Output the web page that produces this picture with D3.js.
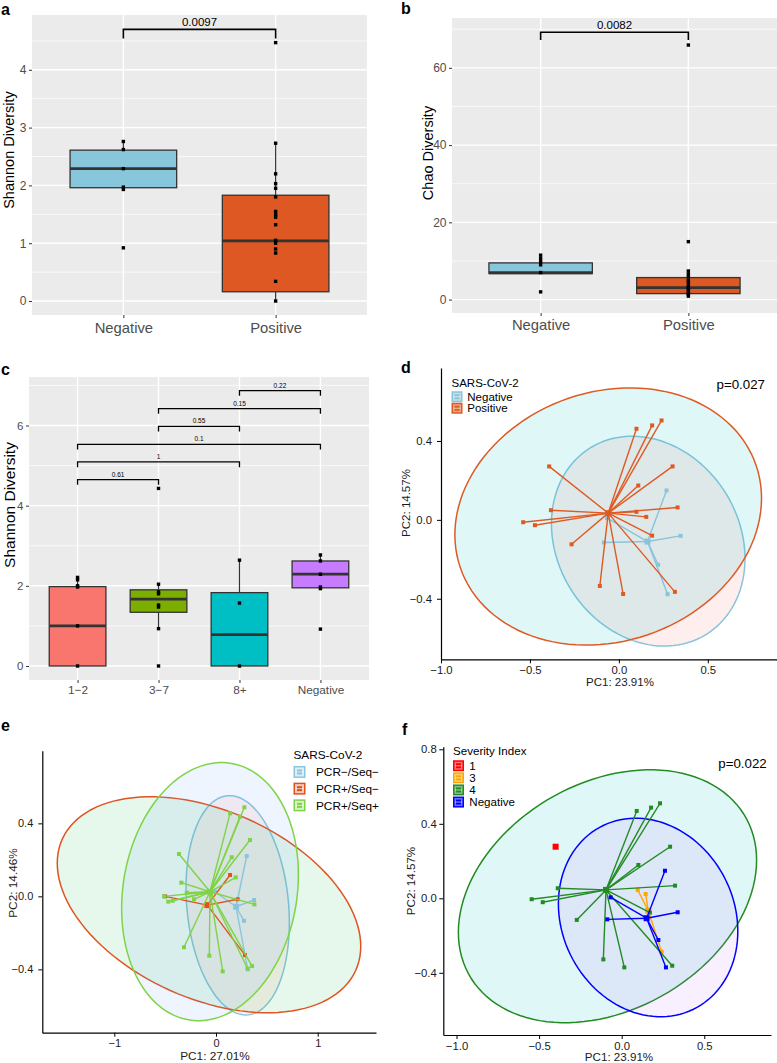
<!DOCTYPE html>
<html><head><meta charset="utf-8">
<script src="https://cdn.jsdelivr.net/npm/d3@7"></script>
<style>
body{margin:0;background:#fff}
svg{display:block}
text{font-family:"Liberation Sans",Arial,Helvetica,sans-serif}
</style>
</head><body>
<svg id="fig" width="777" height="1063"></svg>
<script>
// ================= DATA =================
// Panel a: Shannon diversity by SARS-CoV-2 status
const aCategories = ["Negative", "Positive"];
const aQ1 = [1.96, 0.16];
const aMedian = [2.29, 1.04];
const aQ3 = [2.61, 1.83];
const aWhiskerLow = [1.93, 0.0];
const aWhiskerHigh = [2.76, 2.73];
const aPointsNegative = [2.76, 2.62, 2.29, 1.97, 1.93, 0.92];
const aPointsPositive = [4.47, 2.73, 2.20, 2.03, 1.95, 1.80, 1.55, 1.50, 1.45, 1.32, 1.05, 1.00, 0.90, 0.83, 0.34, 0.0];
const aYTicks = [0, 1, 2, 3, 4];
const aYMinor = [0.5, 1.5, 2.5, 3.5, 4.5];
const aBracketFrom = ["Negative"], aBracketTo = ["Positive"], aBracketY = [4.70], aBracketTip = [0.16], aBracketLabels = ["0.0097"];

// Panel b: Chao diversity
const bCategories = ["Negative", "Positive"];
const bQ1 = [6.75, 1.55];
const bMedian = [6.95, 3.1];
const bQ3 = [9.5, 5.7];
const bWhiskerLow = [6.75, 0.9];
const bWhiskerHigh = [11.5, 7.4];
const bPointsNegative = [11.5, 10.6, 9.8, 9.0, 7.0, 2.0];
const bPointsPositive = [65.9, 15.0, 7.4, 6.6, 5.9, 5.0, 4.4, 3.7, 3.2, 2.7, 2.2, 1.7, 1.3, 0.9];
const bYTicks = [0, 20, 40, 60];
const bYMinor = [10, 30, 50, 70];
const bBracketFrom = ["Negative"], bBracketTo = ["Positive"], bBracketY = [69.2], bBracketTip = [2.0], bBracketLabels = ["0.0082"];

// Panel c: Shannon diversity by severity group
const cCategories = ["1\u22122", "3\u22127", "8+", "Negative"];
const cQ1 = [0.0, 1.34, 0.0, 1.95];
const cMedian = [1.0, 1.67, 0.78, 2.29];
const cQ3 = [1.98, 1.90, 1.83, 2.62];
const cWhiskerLow = [0.0, 0.93, 0.0, 1.93];
const cWhiskerHigh = [2.21, 2.04, 2.64, 2.77];
const cPoints12 = [2.21, 2.15, 2.0, 1.97, 1.0, 0.0];
const cPoints37 = [4.43, 2.04, 1.85, 1.80, 1.52, 1.47, 0.93, 0.0];
const cPoints8 = [2.64, 1.57, 0.0];
const cPointsNeg = [2.77, 2.62, 2.29, 1.97, 1.93, 0.92];
const cYTicks = [0, 2, 4, 6];
const cYMinor = [1, 3, 5, 7];
const cBracketFrom = ["8+", "3\u22127", "3\u22127", "1\u22122", "1\u22122", "1\u22122"];
const cBracketTo = ["Negative", "Negative", "8+", "Negative", "8+", "3\u22127"];
const cBracketY = [6.87, 6.42, 5.98, 5.53, 5.09, 4.65];
const cBracketTip = [0.13, 0.13, 0.13, 0.13, 0.13, 0.13];
const cBracketLabels = ["0.22", "0.15", "0.55", "0.1", "1", "0.61"];

// Panel d: PCoA, SARS-CoV-2 status
const dGroups = ["Negative", "Positive"];
const dNegX = [0.268, 0.347, -0.084, -0.066, 0.221, 0.274];
const dNegY = [0.149, -0.081, -0.115, 0.009, -0.228, -0.377];
const dPosX = [0.099, 0.187, 0.240, -0.392, 0.302, 0.109, -0.382, 0.330, -0.538, -0.472, 0.099, 0.154, 0.187, -0.266, -0.107, 0.024, 0.315];
const dPosY = [0.462, 0.479, 0.504, 0.271, 0.271, 0.174, 0.049, 0.063, -0.012, -0.027, 0.041, 0.015, -0.080, -0.124, -0.335, -0.376, -0.365];
const dCentroidX = [0.161, -0.060];
const dCentroidY = [-0.110, 0.034];
const dEllCx = [0.165, -0.060], dEllCy = [-0.108, 0.017];
const dEllSxx = [0.296, 0.743], dEllSyy = [0.283, 0.425], dEllSxy = [-0.048, 0.080];
const dXTicks = [-1.0, -0.5, 0.0, 0.5], dYTicks = [-0.4, 0.0, 0.4];

// Panel e: PCoA, PCR / sequencing status
const eGroups = ["PCR\u2212/Seq\u2212", "PCR+/Seq\u2212", "PCR+/Seq+"];
const eG1X = [0.302, 0.374, 0.275, 0.312, -0.010];
const eG1Y = [0.221, -0.020, -0.134, -0.400, 0.025];
const eG2X = [-0.500, 0.138, 0.213, 0.285];
const eG2Y = [0.000, 0.117, -0.016, -0.322];
const eG3X = [0.138, 0.279, 0.236, 0.334, -0.364, 0.154, 0.194, -0.341, -0.511, -0.469, -0.426, -0.288, -0.216, 0.377, -0.315, -0.066, 0.066, 0.310, 0.354];
const eG3Y = [0.455, 0.488, 0.437, 0.309, 0.232, 0.214, 0.104, 0.075, 0.000, -0.029, -0.024, 0.020, -0.016, -0.044, -0.279, -0.325, -0.411, -0.395, -0.382];
const eCentroidX = [0.197, -0.085, -0.059];
const eCentroidY = [-0.057, -0.048, 0.025];
const eEllCx = [0.213, -0.069, -0.059], eEllCy = [-0.049, -0.046, 0.026];
const eEllSxx = [0.258, 2.226, 0.755], eEllSyy = [0.361, 0.350, 0.500], eEllSxy = [-0.048, -0.340, 0.080];
const eXTicks = [-1, 0, 1], eYTicks = [-0.4, 0.0, 0.4];

// Panel f: PCoA, severity index
const fGroups = ["1", "3", "4", "Negative"];
const fG1X = [-0.400], fG1Y = [0.277];
const fG3X = [0.097, 0.145, 0.242], fG3Y = [0.045, 0.023, -0.287];
const fG4X = [0.091, 0.178, 0.232, 0.293, 0.101, -0.387, 0.323, -0.545, -0.478, -0.272, 0.171, -0.111, 0.016, 0.306];
const fG4Y = [0.469, 0.487, 0.510, 0.277, 0.179, 0.054, 0.068, -0.005, -0.021, -0.116, -0.077, -0.328, -0.371, -0.362];
const fGNX = [0.262, 0.339, -0.087, -0.067, 0.222, 0.268];
const fGNY = [0.148, -0.075, -0.113, 0.005, -0.224, -0.371];
const fCentroidX = [-0.400, 0.161, -0.095, 0.151];
const fCentroidY = [0.277, -0.067, 0.045, -0.107];
const fEllCx = [null, null, -0.086, 0.160], fEllCy = [null, null, 0.011, -0.103];
const fEllSxx = [null, null, 0.815, 0.295], fEllSyy = [null, null, 0.461, 0.284], fEllSxy = [null, null, 0.175, -0.040];
const fXTicks = [-1.0, -0.5, 0.0, 0.5], fYTicks = [-0.4, 0.0, 0.4, 0.8];

// ================= DRAWING =================
const svg = d3.select("#fig");
const FONT = '"Liberation Sans", Arial, Helvetica, sans-serif';

function styleAxisText(sel, size, color) {
  sel.selectAll("text").style("font-size", size + "px").style("font-family", FONT).attr("fill", color);
}

function boxPanel(o) {
  const g = svg.append("g");
  const x = d3.scalePoint().domain(o.categories).range([o.left, o.right]).padding(0.6);
  const y = d3.scaleLinear().domain(o.yDomain).range([o.bottom, o.top]);
  g.append("rect").attr("x", o.left).attr("y", o.top).attr("width", o.right - o.left)
    .attr("height", o.bottom - o.top).attr("fill", "#EBEBEB");
  g.selectAll("line.minor").data(o.yMinor).join("line").attr("class", "minor")
    .attr("x1", o.left).attr("x2", o.right).attr("y1", d => y(d)).attr("y2", d => y(d))
    .attr("stroke", "#fff").attr("stroke-width", 0.7);
  g.selectAll("line.major").data(o.yTicks).join("line").attr("class", "major")
    .attr("x1", o.left).attr("x2", o.right).attr("y1", d => y(d)).attr("y2", d => y(d))
    .attr("stroke", "#fff").attr("stroke-width", 1.4);
  g.selectAll("line.vmajor").data(o.categories).join("line").attr("class", "vmajor")
    .attr("x1", d => x(d)).attr("x2", d => x(d)).attr("y1", o.top).attr("y2", o.bottom)
    .attr("stroke", "#fff").attr("stroke-width", 1.4);

  const bw = x.step() * 0.7;
  o.categories.forEach((c, i) => {
    const cx = x(c);
    g.append("line").attr("x1", cx).attr("x2", cx).attr("y1", y(o.q3[i])).attr("y2", y(o.hi[i]))
      .attr("stroke", "#333").attr("stroke-width", 1.2);
    g.append("line").attr("x1", cx).attr("x2", cx).attr("y1", y(o.q1[i])).attr("y2", y(o.lo[i]))
      .attr("stroke", "#333").attr("stroke-width", 1.2);
    g.append("rect").attr("x", cx - bw / 2).attr("y", y(o.q3[i])).attr("width", bw)
      .attr("height", y(o.q1[i]) - y(o.q3[i])).attr("fill", o.fills[i])
      .attr("stroke", "#333").attr("stroke-width", 1.3);
    g.append("line").attr("x1", cx - bw / 2).attr("x2", cx + bw / 2)
      .attr("y1", y(o.med[i])).attr("y2", y(o.med[i])).attr("stroke", "#333").attr("stroke-width", 2.8);
    g.selectAll(null).data(o.points[i]).join("rect")
      .attr("x", cx - 1.7).attr("y", d => y(d) - 1.7).attr("width", 3.4).attr("height", 3.4).attr("fill", "#000");
  });

  const ya = g.append("g").attr("transform", `translate(${o.left},0)`)
    .call(d3.axisLeft(y).tickValues(o.yTicks).tickFormat(d3.format("d")).tickSize(3).tickPadding(2.5));
  ya.select(".domain").remove();
  ya.selectAll("line").attr("stroke", "#333");
  styleAxisText(ya, o.yTickSize, "#4D4D4D");

  const xa = g.append("g").attr("transform", `translate(0,${o.bottom})`)
    .call(d3.axisBottom(x).tickSize(3).tickPadding(o.xPad));
  xa.select(".domain").remove();
  xa.selectAll("line").attr("stroke", "#333");
  styleAxisText(xa, o.xTickSize, "#4D4D4D");

  // significance brackets
  o.bFrom.forEach((f, i) => {
    const x1 = x(f), x2 = x(o.bTo[i]), yy = y(o.bY[i]), yt = y(o.bY[i] - o.bTip[i]);
    g.append("path").attr("d", `M${x1},${yt}V${yy}H${x2}V${yt}`)
      .attr("fill", "none").attr("stroke", "#000").attr("stroke-width", o.bWidth);
    g.append("text").attr("x", (x1 + x2) / 2).attr("y", yy - o.bGap).attr("text-anchor", "middle")
      .style("font-size", o.bSize + "px").attr("fill", "#000").text(o.bLabels[i]);
  });

  g.append("text").attr("transform", `translate(${o.titleX},${o.titleY}) rotate(-90)`)
    .attr("text-anchor", "middle").style("font-size", o.titleSize + "px").attr("fill", "#000").text(o.yTitle);
}

function ellipsePath(cx, cy, sxx, syy, sxy, x, y) {
  const l11 = Math.sqrt(sxx), l21 = sxy / l11, l22 = Math.sqrt(syy - l21 * l21);
  const ts = d3.range(0, 121).map(i => i / 120 * 2 * Math.PI);
  return d3.line().x(t => x(cx + l11 * Math.cos(t))).y(t => y(cy + l21 * Math.cos(t) + l22 * Math.sin(t)))(ts) + "Z";
}

function pcoaPanel(o) {
  const g = svg.append("g");
  const x = d3.scaleLinear().domain(o.xDomain).range([o.left, o.right]);
  const y = d3.scaleLinear().domain(o.yDomain).range([o.bottom, o.top]);
  // ellipses
  o.groups.forEach((grp, i) => {
    if (o.ell.cx[i] === null) return;
    g.append("path").attr("d", ellipsePath(o.ell.cx[i], o.ell.cy[i], o.ell.sxx[i], o.ell.syy[i], o.ell.sxy[i], x, y))
      .attr("fill", o.fills[i]).attr("fill-opacity", o.fillOpacity)
      .attr("stroke", o.colors[i]).attr("stroke-width", 1.5);
  });
  // spiders
  o.groups.forEach((grp, i) => {
    const cxp = x(o.cenX[i]), cyp = y(o.cenY[i]);
    g.selectAll(null).data(d3.range(o.xs[i].length)).join("line")
      .attr("x1", cxp).attr("y1", cyp).attr("x2", k => x(o.xs[i][k])).attr("y2", k => y(o.ys[i][k]))
      .attr("stroke", o.colors[i]).attr("stroke-width", 1.4);
    g.selectAll(null).data(d3.range(o.xs[i].length)).join("rect")
      .attr("x", k => x(o.xs[i][k]) - 2).attr("y", k => y(o.ys[i][k]) - 2).attr("width", 4).attr("height", 4)
      .attr("fill", o.colors[i]);
    g.append("rect").attr("x", cxp - 3).attr("y", cyp - 3).attr("width", 6).attr("height", 6).attr("fill", o.colors[i]);
  });
  // axes
  const xa = g.append("g").attr("transform", `translate(0,${o.bottom})`)
    .call(d3.axisBottom(x).tickValues(o.xTicks).tickFormat(o.xFmt).tickSize(4).tickSizeOuter(0).tickPadding(o.xPad));
  xa.select(".domain").attr("stroke", "#000").attr("stroke-width", 1.2);
  xa.selectAll(".tick line").attr("stroke", "#000");
  styleAxisText(xa, o.tickSize, "#1a1a1a");
  const ya = g.append("g").attr("transform", `translate(${o.left},0)`)
    .call(d3.axisLeft(y).tickValues(o.yTicks).tickFormat(o.yFmt).tickSize(4).tickSizeOuter(0).tickPadding(o.yPad));
  ya.select(".domain").attr("stroke", "#000").attr("stroke-width", 1.2);
  ya.selectAll(".tick line").attr("stroke", "#000");
  styleAxisText(ya, o.tickSize, "#1a1a1a");
  // titles
  g.append("text").attr("x", o.xTitlePos[0]).attr("y", o.xTitlePos[1]).attr("text-anchor", "middle")
    .style("font-size", o.titleSize + "px").attr("fill", "#1a1a1a").text(o.xTitle);
  g.append("text").attr("transform", `translate(${o.yTitlePos[0]},${o.yTitlePos[1]}) rotate(-90)`)
    .attr("text-anchor", "middle").style("font-size", o.titleSize + "px").attr("fill", "#1a1a1a").text(o.yTitle);
  // legend
  const L = o.legend;
  g.append("text").attr("x", L.x).attr("y", L.titleY).style("font-size", L.size + "px").attr("fill", "#000").text(L.title);
  o.groups.forEach((grp, i) => {
    const ky = L.firstY + i * L.step;
    g.append("rect").attr("x", L.x + 0.75).attr("y", ky).attr("width", L.key).attr("height", L.key)
      .attr("fill", o.colors[i]).attr("fill-opacity", L.keyOpacity)
      .attr("stroke", o.colors[i]).attr("stroke-width", 1.5);
    g.append("rect").attr("x", L.x + 0.75 + L.key / 2 - 2.5).attr("y", ky + L.key / 2 - 2.5)
      .attr("width", 5).attr("height", 5).attr("fill", o.colors[i]);
    g.append("line").attr("x1", L.x + 2).attr("x2", L.x + L.key - 0.5).attr("y1", ky + L.key / 2).attr("y2", ky + L.key / 2)
      .attr("stroke", "#fff").attr("stroke-width", 0.8).attr("stroke-opacity", 0.8);
    g.append("text").attr("x", L.labelX).attr("y", ky + L.key / 2 + L.size * 0.36)
      .style("font-size", L.size + "px").attr("fill", "#000").text(grp);
  });
  if (o.pLabel) {
    g.append("text").attr("x", o.pPos[0]).attr("y", o.pPos[1]).attr("text-anchor", "end")
      .style("font-size", "13.3px").attr("fill", "#000").text(o.pLabel);
  }
}

// panel letters
const panelLetters = ["a", "b", "c", "d", "e", "f"];
const letterPos = [[1, 15], [401, 14], [1, 375], [401, 373], [1, 731], [402, 735]];
svg.selectAll("text.letter").data(panelLetters).join("text").attr("class", "letter")
  .attr("x", (d, i) => letterPos[i][0]).attr("y", (d, i) => letterPos[i][1])
  .style("font-size", "16px").style("font-weight", "bold").attr("fill", "#000").text(d => d);

// ---- a ----
boxPanel({
  categories: aCategories, q1: aQ1, med: aMedian, q3: aQ3, lo: aWhiskerLow, hi: aWhiskerHigh,
  points: [aPointsNegative, aPointsPositive], fills: ["#88C6DB", "#DD5822"],
  left: 32, right: 367, top: 15, bottom: 315, yDomain: [-0.242, 4.948],
  yTicks: aYTicks, yMinor: aYMinor, yTickSize: 12, xTickSize: 14.8, xPad: 4.5,
  bFrom: aBracketFrom, bTo: aBracketTo, bY: aBracketY, bTip: aBracketTip, bLabels: aBracketLabels,
  bSize: 11.5, bGap: 3.5, bWidth: 1.6,
  yTitle: "Shannon Diversity", titleX: 14, titleY: 150, titleSize: 14.5
});

// ---- b ----
boxPanel({
  categories: bCategories, q1: bQ1, med: bMedian, q3: bQ3, lo: bWhiskerLow, hi: bWhiskerHigh,
  points: [bPointsNegative, bPointsPositive], fills: ["#88C6DB", "#DD5822"],
  left: 452, right: 777, top: 18, bottom: 313, yDomain: [-3.47, 72.9],
  yTicks: bYTicks, yMinor: bYMinor, yTickSize: 12, xTickSize: 14.8, xPad: 3.5,
  bFrom: bBracketFrom, bTo: bBracketTo, bY: bBracketY, bTip: bBracketTip, bLabels: bBracketLabels,
  bSize: 11.5, bGap: 3.5, bWidth: 1.6,
  yTitle: "Chao Diversity", titleX: 433, titleY: 153, titleSize: 14.5
});

// ---- c ----
boxPanel({
  categories: cCategories, q1: cQ1, med: cMedian, q3: cQ3, lo: cWhiskerLow, hi: cWhiskerHigh,
  points: [cPoints12, cPoints37, cPoints8, cPointsNeg], fills: ["#F8766D", "#7CAE00", "#00BFC4", "#C77CFF"],
  left: 29, right: 369, top: 377, bottom: 680, yDomain: [-0.35, 7.21],
  yTicks: cYTicks, yMinor: cYMinor, yTickSize: 11.5, xTickSize: 11.8, xPad: 3,
  bFrom: cBracketFrom, bTo: cBracketTo, bY: cBracketY, bTip: cBracketTip, bLabels: cBracketLabels,
  bSize: 6.5, bGap: 3, bWidth: 1.3,
  yTitle: "Shannon Diversity", titleX: 15, titleY: 505, titleSize: 15.5
});

const f1 = d3.format(".1f"), f0 = d3.format("d");

// ---- d ----
pcoaPanel({
  groups: dGroups, colors: ["#89C4DB", "#DF5A23"], fills: ["#F8766D", "#00BFC4"], fillOpacity: 0.12,
  xs: [dNegX, dPosX], ys: [dNegY, dPosY], cenX: dCentroidX, cenY: dCentroidY,
  ell: { cx: dEllCx, cy: dEllCy, sxx: dEllSxx, syy: dEllSyy, sxy: dEllSxy },
  left: 441, right: 777, top: 368, bottom: 659.3, xDomain: [-1.0, 0.889], yDomain: [-0.707, 0.770],
  xTicks: dXTicks, yTicks: dYTicks, xFmt: f1, yFmt: f1, tickSize: 11.3, xPad: 2.2, yPad: 5,
  xTitle: "PC1: 23.91%", yTitle: "PC2: 14.57%", titleSize: 11.5, xTitlePos: [620, 685.5], yTitlePos: [410, 503],
  legend: { x: 451.5, titleY: 387.3, firstY: 392, step: 11.5, key: 9.5, labelX: 467.3, size: 11.5, title: "SARS-CoV-2", keyOpacity: 0.55 },
  pLabel: "p=0.027", pPos: [765, 389.3]
});

// ---- e ----
pcoaPanel({
  groups: eGroups, colors: ["#8BC5DD", "#E0531F", "#7ED348"], fills: ["#F8766D", "#00BA38", "#619CFF"], fillOpacity: 0.1,
  xs: [eG1X, eG2X, eG3X], ys: [eG1Y, eG2Y, eG3Y], cenX: eCentroidX, cenY: eCentroidY,
  ell: { cx: eEllCx, cy: eEllCy, sxx: eEllSxx, syy: eEllSyy, sxy: eEllSxy },
  left: 42.3, right: 376, top: 750.7, bottom: 1032.7, xDomain: [-1.708, 1.573], yDomain: [-0.747, 0.798],
  xTicks: eXTicks, yTicks: eYTicks, xFmt: f0, yFmt: f1, tickSize: 11, xPad: 2.8, yPad: 5,
  xTitle: "PC1: 27.01%", yTitle: "PC2: 14.46%", titleSize: 11.8, xTitlePos: [215, 1060], yTitlePos: [16.5, 883],
  legend: { x: 293.5, titleY: 759, firstY: 766.7, step: 16.7, key: 10.5, labelX: 316, size: 11.8, title: "SARS-CoV-2", keyOpacity: 0.3 },
  pLabel: null
});

// ---- f ----
pcoaPanel({
  groups: fGroups, colors: ["#FF0000", "#FFA500", "#228B22", "#0000FF"], fills: ["#F8766D", "#7CAE00", "#00BFC4", "#C77CFF"], fillOpacity: 0.12,
  xs: [fG1X, fG3X, fG4X, fGNX], ys: [fG1Y, fG3Y, fG4Y, fGNY], cenX: fCentroidX, cenY: fCentroidY,
  ell: { cx: fEllCx, cy: fEllCy, sxx: fEllSxx, syy: fEllSyy, sxy: fEllSxy },
  left: 443.3, right: 771, top: 746.7, bottom: 1035, xDomain: [-1.08, 0.904], yDomain: [-0.734, 0.814],
  xTicks: fXTicks, yTicks: fYTicks, xFmt: f1, yFmt: f1, tickSize: 11.3, xPad: 2.5, yPad: 2.6,
  xTitle: "PC1: 23.91%", yTitle: "PC2: 14.57%", titleSize: 11.6, xTitlePos: [619, 1061], yTitlePos: [415, 881],
  legend: { x: 453, titleY: 755, firstY: 761, step: 12.1, key: 9.5, labelX: 469.3, size: 11.6, title: "Severity Index", keyOpacity: 0.55 },
  pLabel: "p=0.022", pPos: [766.7, 768.3]
});
</script>
</body></html>
